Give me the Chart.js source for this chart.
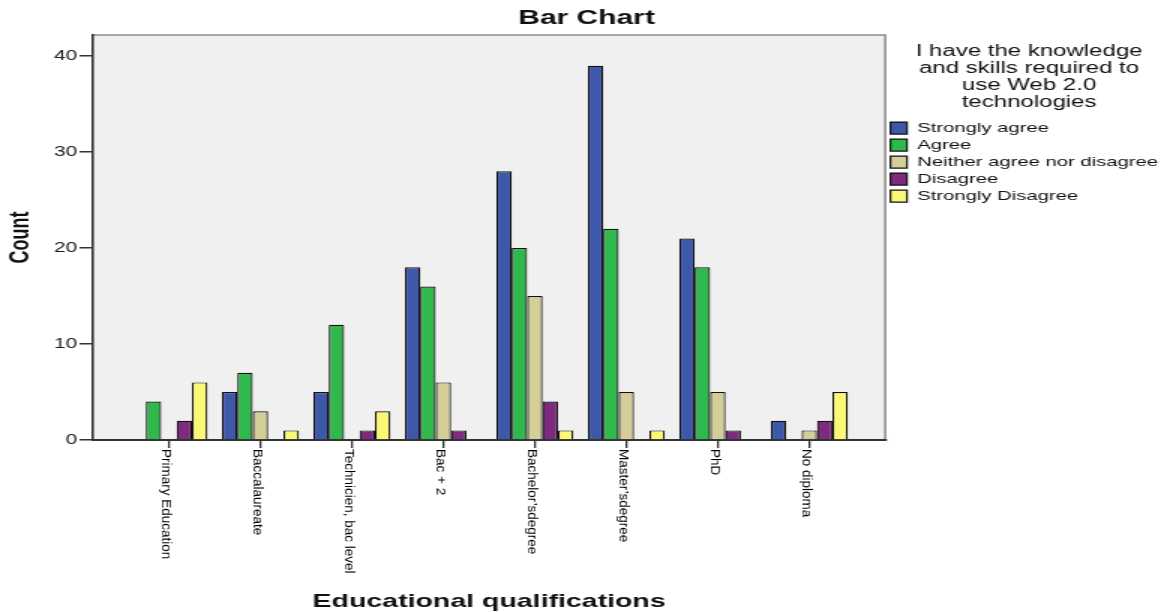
<!DOCTYPE html>
<html>
<head>
<meta charset="utf-8">
<title>Bar Chart</title>
<script src="https://cdn.jsdelivr.net/npm/chart.js@4.4.0/dist/chart.umd.min.js"></script>
<style>
  html, body { margin: 0; padding: 0; background: #fff; overflow: hidden; }
  /* the SPSS export is wide and squat, so the chart is laid out narrow and widened */
  #wrap { width: 779.333px; height: 612px; transform: scaleX(1.5); transform-origin: 0 0; }
</style>
</head>
<body>
<div id="wrap"><canvas id="barChart"></canvas></div>
<script>
// Educational qualifications x answer to the Web 2.0 skills question
const categories = [
  "Primary Education",
  "Baccalaureate",
  "Technicien, bac level",
  "Bac + 2",
  "Bachelor\u2019sdegree",
  "Master\u2019sdegree",
  "PhD",
  "No diploma"
];
const seriesNames = ["Strongly agree", "Agree", "Neither agree nor disagree", "Disagree", "Strongly Disagree"];
const stronglyAgree    = [0, 5, 5, 18, 28, 39, 21, 2];
const agree            = [4, 7, 12, 16, 20, 22, 18, 0];
const neither          = [0, 3, 0, 6, 15, 5, 5, 1];
const disagree         = [2, 0, 1, 1, 4, 0, 1, 2];
const stronglyDisagree = [6, 1, 3, 0, 1, 1, 0, 5];
const seriesColors = ["#3e58a9", "#2fb84b", "#d4cf98", "#7d2a7f", "#fbf777"];
const yTicks = [0, 10, 20, 30, 40];
const legendTitle = ["I have the knowledge", "and skills required to", "use Web 2.0", "technologies"];

const FONT = "'Liberation Sans', Arial, sans-serif";
const seriesValues = [stronglyAgree, agree, neither, disagree, stronglyDisagree];

Chart.defaults.font.family = FONT;

// gray plot background, light frame on the top and right sides
const plotFrame = {
  id: "plotFrame",
  beforeDraw(chart) {
    const { ctx, chartArea: a } = chart;
    ctx.save();
    ctx.fillStyle = "#f0f0f0";
    ctx.fillRect(a.left, a.top, a.right - a.left, a.bottom - a.top);
    ctx.strokeStyle = "#8c8c8c";
    ctx.lineWidth = 1.5;
    ctx.beginPath();
    ctx.moveTo(a.left, a.top);
    ctx.lineTo(a.right, a.top);
    ctx.lineTo(a.right, a.bottom);
    ctx.stroke();
    ctx.restore();
  }
};

// category names read downwards under each tick, narrow like the SPSS output
const verticalLabels = {
  id: "verticalLabels",
  afterDraw(chart) {
    const { ctx } = chart;
    const xs = chart.scales.x;
    ctx.save();
    ctx.font = "13.5px " + FONT;
    ctx.fillStyle = "#000";
    ctx.textAlign = "left";
    ctx.textBaseline = "alphabetic";
    categories.forEach((name, i) => {
      ctx.save();
      ctx.translate(xs.getPixelForValue(i) - 4.9, xs.top + 9);
      ctx.rotate(Math.PI / 2);
      ctx.scale(1, 0.68);
      ctx.fillText(name, 0, 0);
      ctx.restore();
    });
    ctx.restore();
  }
};

new Chart(document.getElementById("barChart"), {
  type: "bar",
  data: {
    datasets: seriesNames.map((name, s) => ({
      label: name,
      data: seriesValues[s].map((v, i) => ({ x: i, y: v })),
      backgroundColor: seriesColors[s],
      borderColor: "#111",
      borderWidth: 1.2,
      categoryPercentage: 0.842,
      barPercentage: 1
    }))
  },
  options: {
    responsive: true,
    maintainAspectRatio: false,
    animation: false,
    layout: { padding: { top: 0, left: 0, bottom: 0, right: -2.7 } },
    plugins: {
      title: {
        display: true,
        text: "Bar Chart",
        color: "#111",
        font: { size: 20, weight: "bold" },
        padding: { top: 6, bottom: 5 }
      },
      legend: {
        position: "right",
        align: "start",
        fullSize: false,
        title: {
          display: true,
          text: legendTitle,
          color: "#111",
          font: { size: 16, lineHeight: 1.05 },
          padding: { top: 9, bottom: 57 }
        },
        labels: {
          boxWidth: 11,
          boxHeight: 12,
          padding: 3.5,
          color: "#111",
          font: { size: 13.5 }
        }
      },
      tooltip: { enabled: false }
    },
    scales: {
      x: {
        type: "linear",
        min: -0.83,
        max: 7.83,
        offset: false,
        afterBuildTicks: (s) => { s.ticks = categories.map((_, i) => ({ value: i })); },
        afterFit: (s) => { s.height = 172; },
        ticks: { display: false },
        grid: { offset: false, drawOnChartArea: false, drawTicks: true, tickLength: 8, color: "#333", lineWidth: 1.3 },
        border: { display: true, color: "#333", width: 2 },
        title: {
          display: true,
          text: "Educational qualifications",
          color: "#111",
          font: { size: 19, weight: "bold", lineHeight: 1 },
          padding: { top: 0, bottom: 1 }
        }
      },
      y: {
        min: 0,
        max: 42.2,
        afterBuildTicks: (s) => { s.ticks = yTicks.map((v) => ({ value: v })); },
        afterFit: (s) => { s.width = 62; },
        ticks: { color: "#222", padding: 1.5, font: { size: 14 } },
        grid: { drawOnChartArea: false, tickLength: 9, color: "#333", lineWidth: 1.5 },
        border: { color: "#333", width: 1.6 },
        title: {
          display: true,
          text: "Count",
          color: "#111",
          font: { size: 18, weight: "bold" },
          padding: { top: 3.2, bottom: 0 }
        }
      }
    }
  },
  plugins: [plotFrame, verticalLabels]
});
</script>
</body>
</html>
